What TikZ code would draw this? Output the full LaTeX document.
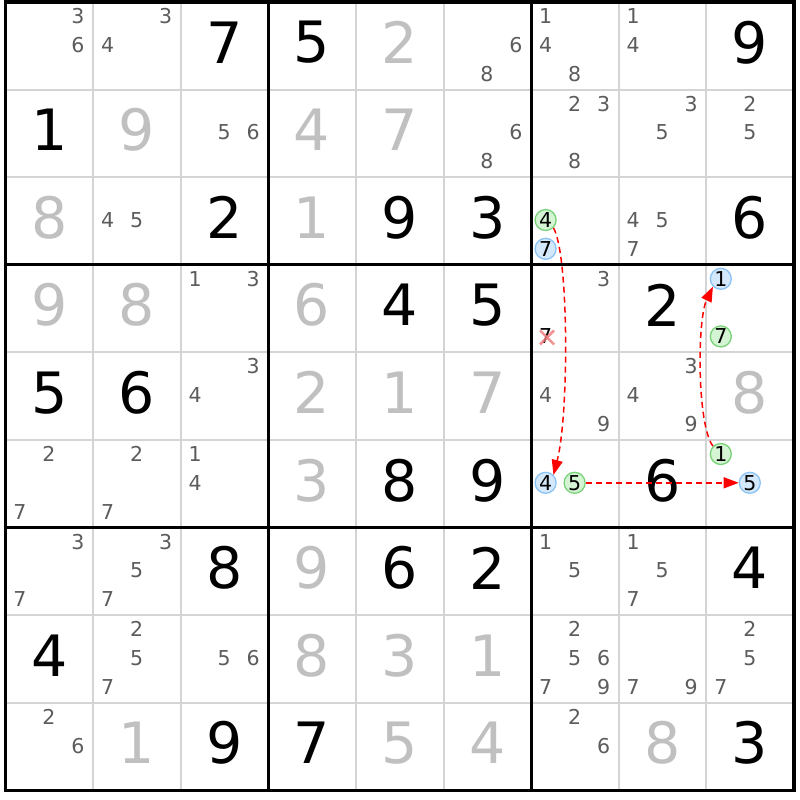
\documentclass[tikz,border=0pt]{standalone}
\usepackage{fontspec}
\setmainfont{DejaVu Sans}
\usetikzlibrary{arrows.meta}
\definecolor{candc}{RGB}{92,92,92}
\definecolor{solvedc}{RGB}{192,192,192}
\definecolor{thinc}{RGB}{212,212,212}
\definecolor{bluefill}{RGB}{212,232,252}
\definecolor{bluedraw}{RGB}{140,195,245}
\definecolor{greenfill}{RGB}{212,244,212}
\definecolor{greendraw}{RGB}{120,210,120}
\definecolor{xmarkc}{RGB}{240,120,120}
\newcommand\setcandpos[3]{%
  \pgfmathsetmacro\cx{5.5+(#2-1)*87.6+14.5+29*mod(#3-1,3)}%
  \pgfmathsetmacro\cy{2+(#1-1)*87.6+14+28.8*floor((#3-1)/3)}}
\newcommand\setbigpos[2]{%
  \pgfmathsetmacro\cx{5.5+(#2-0.5)*87.6}%
  \pgfmathsetmacro\cy{2+(#1-0.5)*87.6-3.5}}
\begin{document}
\begin{tikzpicture}[x=1pt,y=-1pt,
  given/.style={font=\fontsize{57}{60}\selectfont, text=black, inner sep=0pt},
  solved/.style={font=\fontsize{57}{60}\selectfont, text=solvedc, inner sep=0pt},
  cand/.style={font=\fontsize{20.5}{22}\selectfont, text=candc, inner sep=0pt},
  hlbase/.style={circle, line width=1.3pt, minimum size=21pt, inner sep=0pt,
    font=\fontsize{20.5}{22}\selectfont, text=black},
  hlblue/.style={hlbase, draw=bluedraw, fill=bluefill},
  hlgreen/.style={hlbase, draw=greendraw, fill=greenfill},
  thinline/.style={draw=thinc, line width=2pt},
  thickline/.style={draw=black, line width=3pt},
  xmark/.style={draw=xmarkc, line width=2.5pt, opacity=0.8},
  link/.style={draw=red, line width=1.5pt, dash pattern=on 6pt off 4pt,
    -{Triangle[length=15pt,width=11pt]}}]
\useasboundingbox (0,0) rectangle (800,800);
\fill[white] (0,0) rectangle (800,800);
% thin grid lines
\foreach \i in {1,2,4,5,7,8}{
  \pgfmathsetmacro\p{5.5+\i*87.6}
  \pgfmathsetmacro\q{2+\i*87.6}
  \draw[thinline] (\p,2) -- (\p,790.4);
  \draw[thinline] (5.5,\q) -- (793.9,\q);
}
% thick grid lines
\foreach \i in {3,6}{
  \pgfmathsetmacro\p{5.5+\i*87.6}
  \pgfmathsetmacro\q{2+\i*87.6}
  \draw[thickline] (\p,2) -- (\p,790.4);
  \draw[thickline] (5.5,\q) -- (793.9,\q);
}
\draw[draw=black, line width=3.5pt] (5.5,2) rectangle (793.9,790.4);
% given digits
\foreach \r/\c/\d in {1/3/7,1/4/5,1/9/9,2/1/1,3/3/2,3/5/9,3/6/3,3/9/6,4/5/4,4/6/5,
  4/8/2,5/1/5,5/2/6,6/5/8,6/6/9,6/8/6,7/3/8,7/5/6,7/6/2,7/9/4,8/1/4,9/3/9,9/4/7,9/9/3}{
  \setbigpos{\r}{\c}
  \node[given] (b\r\c) at (\cx,\cy) {\d};
}
% solved digits
\foreach \r/\c/\d in {1/5/2,2/2/9,2/4/4,2/5/7,3/1/8,3/4/1,4/1/9,4/2/8,4/4/6,5/4/2,
  5/5/1,5/6/7,5/9/8,6/4/3,7/4/9,8/4/8,8/5/3,8/6/1,9/2/1,9/5/5,9/6/4,9/8/8}{
  \setbigpos{\r}{\c}
  \node[solved] (b\r\c) at (\cx,\cy) {\d};
}
% candidates
\foreach \r/\c/\ds in {1/1/{3,6},1/2/{3,4},1/6/{6,8},1/7/{1,4,8},1/8/{1,4},
  2/3/{5,6},2/6/{6,8},2/7/{2,3,8},2/8/{3,5},2/9/{2,5},
  3/2/{4,5},3/8/{4,5,7},
  4/3/{1,3},4/7/{3},
  5/3/{3,4},5/7/{4,9},5/8/{3,4,9},
  6/1/{2,7},6/2/{2,7},6/3/{1,4},
  7/1/{3,7},7/2/{3,5,7},7/7/{1,5},7/8/{1,5,7},
  8/2/{2,5,7},8/3/{5,6},8/7/{2,5,6,7,9},8/8/{7,9},8/9/{2,5,7},
  9/1/{2,6},9/7/{2,6}}{
  \foreach \d in \ds {
    \setcandpos{\r}{\c}{\d}
    \node[cand] (c\r\c\d) at (\cx,\cy) {\d};
  }
}
% highlighted candidates
\setcandpos{3}{7}{4}\node[hlgreen] (hA) at (\cx,\cy) {4};
\setcandpos{3}{7}{7}\node[hlblue] (c377) at (\cx,\cy) {7};
\setcandpos{4}{9}{1}\node[hlblue] (hF) at (\cx,\cy) {1};
\setcandpos{4}{9}{7}\node[hlgreen] (c497) at (\cx,\cy) {7};
\setcandpos{6}{7}{4}\node[hlblue] (hB) at (\cx,\cy) {4};
\setcandpos{6}{7}{5}\node[hlgreen] (hC) at (\cx,\cy) {5};
\setcandpos{6}{9}{1}\node[hlgreen] (hE) at (\cx,\cy) {1};
\setcandpos{6}{9}{5}\node[hlblue] (hD) at (\cx,\cy) {5};
% eliminated candidate
\setcandpos{4}{7}{7}\node[cand, text=black] (c477) at (\cx,\cy) {7};
\draw[xmark] (c477.center) ++(-5.5,-6) -- ++(14,14);
\draw[xmark] (c477.center) ++(-5.5,8) -- ++(14,-14);
% links
\draw[link] (hA.-45) .. controls (569,255) and (569,415) .. (hB.45);
\draw[link] (hC) -- (hD);
\draw[link] (hE.135) .. controls (697,425) and (697,320) .. (hF.225);
\end{tikzpicture}
\end{document}
